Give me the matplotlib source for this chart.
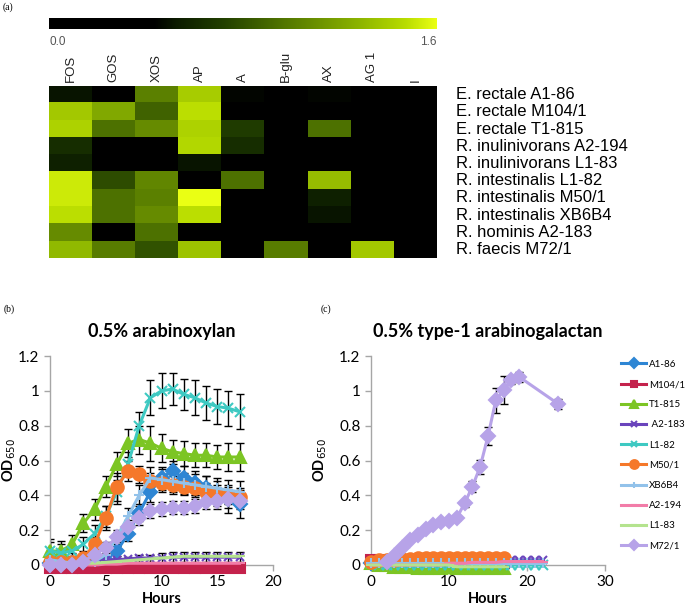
import numpy as np
import matplotlib
matplotlib.use("Agg")
import matplotlib.pyplot as plt
from matplotlib.colors import LinearSegmentedColormap

# Datos del mapa de calor (panel a) ------------------------------------------
substrates = ["FOS", "GOS", "XOS", "AP", "A", "B-glu", "AX", "AG 1", "I"]
strains = ["E. rectale A1-86", "E. rectale M104/1", "E. rectale T1-815",
           "R. inulinivorans A2-194", "R. inulinivorans L1-83",
           "R. intestinalis L1-82", "R. intestinalis M50/1",
           "R. intestinalis XB6B4", "R. hominis A2-183", "R. faecis M72/1"]
fos = [0.50, 1.38, 1.42, 0.62, 0.55, 1.52, 1.52, 1.48, 1.08, 1.30]
gos = [0.00, 1.22, 0.95, 0.00, 0.00, 0.78, 0.95, 0.95, 0.00, 1.00]
xos = [1.02, 0.88, 1.08, 0.00, 0.00, 1.05, 1.02, 1.08, 0.95, 0.80]
ap = [1.40, 1.48, 1.42, 1.45, 0.50, 0.00, 1.60, 1.48, 0.00, 1.35]
a = [0.45, 0.00, 0.70, 0.62, 0.00, 0.95, 0.00, 0.00, 0.00, 0.00]
bglu = [0.00, 0.00, 0.00, 0.00, 0.00, 0.00, 0.00, 0.00, 0.00, 1.00]
ax_ = [0.45, 0.00, 0.95, 0.00, 0.00, 1.32, 0.55, 0.50, 0.00, 0.00]
ag1 = [0.00, 0.00, 0.00, 0.00, 0.00, 0.00, 0.00, 0.00, 0.00, 1.38]
inu = [0.00, 0.00, 0.00, 0.00, 0.00, 0.00, 0.00, 0.00, 0.00, 0.00]
vmax = 1.6

# Curvas de crecimiento en arabinoxilano (panel b) ---------------------------
hours_b = list(range(18))
b_a186 = [0.01, 0.01, 0.01, 0.01, 0.02, 0.03, 0.08, 0.18, 0.30, 0.42, 0.50, 0.54, 0.50, 0.47, 0.44, 0.41, 0.38, 0.35]
b_m104 = [-0.015] * 18
b_t1815 = [0.08, 0.08, 0.12, 0.24, 0.32, 0.45, 0.58, 0.70, 0.72, 0.70, 0.67, 0.65, 0.64, 0.63, 0.63, 0.62, 0.62, 0.62]
b_a2183 = [0.02, 0.02, 0.02, 0.02, 0.02, 0.03, 0.03, 0.035, 0.04, 0.04, 0.04, 0.045, 0.045, 0.045, 0.045, 0.045, 0.045, 0.045]
b_l182 = [0.08, 0.07, 0.08, 0.12, 0.18, 0.28, 0.42, 0.58, 0.80, 0.96, 1.00, 1.01, 0.98, 0.96, 0.93, 0.91, 0.90, 0.88]
b_m501 = [0.02, 0.02, 0.02, 0.04, 0.12, 0.27, 0.45, 0.54, 0.52, 0.48, 0.47, 0.46, 0.45, 0.44, 0.42, 0.41, 0.40, 0.39]
b_xb6b4 = [0.03, 0.02, 0.01, 0.01, 0.02, 0.06, 0.16, 0.28, 0.40, 0.50, 0.49, 0.48, 0.47, 0.46, 0.45, 0.44, 0.43, 0.42]
b_a2194 = [0.0, 0.0, 0.0, 0.0, 0.0, 0.005, 0.005, 0.01, 0.01, 0.01, 0.01, 0.01, 0.01, 0.01, 0.01, 0.01, 0.01, 0.01]
b_l183 = [0.01, 0.01, 0.01, 0.01, 0.01, 0.015, 0.02, 0.025, 0.03, 0.035, 0.04, 0.045, 0.05, 0.05, 0.05, 0.05, 0.05, 0.05]
b_m721 = [0.0, 0.0, 0.0, 0.02, 0.06, 0.10, 0.16, 0.22, 0.27, 0.31, 0.32, 0.33, 0.33, 0.34, 0.36, 0.37, 0.38, 0.37]

# errores (desviación) de las curvas principales
e_a186 = [0.01, 0.01, 0.01, 0.01, 0.01, 0.02, 0.03, 0.04, 0.05, 0.06, 0.06, 0.06, 0.07, 0.07, 0.07, 0.07, 0.08, 0.08]
e_t1815 = [0.07, 0.06, 0.05, 0.05, 0.06, 0.06, 0.07, 0.08, 0.08, 0.10, 0.08, 0.07, 0.07, 0.07, 0.07, 0.07, 0.08, 0.08]
e_l182 = [0.05, 0.05, 0.03, 0.04, 0.05, 0.06, 0.07, 0.07, 0.08, 0.10, 0.10, 0.09, 0.09, 0.10, 0.10, 0.10, 0.10, 0.10]
e_m501 = [0.01, 0.01, 0.01, 0.02, 0.04, 0.07, 0.08, 0.06, 0.05, 0.05, 0.05, 0.05, 0.05, 0.05, 0.05, 0.05, 0.05, 0.05]
e_xb6b4 = [0.01, 0.01, 0.01, 0.01, 0.02, 0.03, 0.04, 0.05, 0.06, 0.06, 0.06, 0.06, 0.06, 0.06, 0.06, 0.06, 0.06, 0.06]
e_m721 = [0.01, 0.01, 0.01, 0.01, 0.02, 0.03, 0.03, 0.04, 0.04, 0.04, 0.04, 0.04, 0.04, 0.04, 0.04, 0.05, 0.05, 0.05]
e_a2183 = [0.0, 0.0, 0.0, 0.0, 0.0, 0.01, 0.01, 0.01, 0.02, 0.02, 0.03, 0.03, 0.03, 0.03, 0.03, 0.03, 0.03, 0.03]

# Curvas en arabinogalactano tipo 1 (panel c) --------------------------------
hours_c = list(range(18))
hours_c_long = list(range(23))
c_a186 = [0.01] * 18
c_m104 = [0.03, 0.03, 0.02, 0.01, 0.01, 0.01, 0.01, 0.01, 0.01, 0.01, 0.01, 0.01, 0.01, 0.01, 0.01, 0.01, 0.01, 0.01]
c_t1815 = [0.01, 0.0, 0.0, -0.01, -0.01, -0.01, -0.015, -0.015, -0.015, -0.015, -0.01, -0.015, -0.015, -0.015, -0.015, -0.015, -0.015, -0.015]
c_a2183 = [0.02, 0.02, 0.01, 0.01, 0.01, 0.01, 0.01, 0.01, 0.01, 0.01, 0.01, 0.01, 0.01, 0.01, 0.01, 0.01, 0.02, 0.02, 0.03, 0.03, 0.03, 0.03, 0.03]
c_l182 = [0.01, 0.0, 0.0, 0.0, 0.0, 0.0, 0.0, 0.0, 0.0, 0.0, 0.0, 0.0, 0.0, 0.0, 0.0, 0.0, 0.0, 0.0, 0.0, 0.0, 0.0, 0.0, 0.0]
c_m501 = [0.02, 0.03, 0.03, 0.03, 0.035, 0.035, 0.04, 0.04, 0.04, 0.04, 0.04, 0.04, 0.04, 0.04, 0.04, 0.04, 0.04, 0.04]
c_xb6b4 = [0.01, 0.01, 0.01, 0.01, 0.01, 0.01, 0.01, 0.01, 0.01, 0.01, 0.01, 0.01, 0.01, 0.01, 0.01, 0.01, 0.01, 0.01, 0.01, 0.01, 0.01, 0.01, 0.01]
c_a2194 = [0.0, 0.0, 0.0, 0.0, 0.0, 0.0, 0.0, 0.0, 0.0, 0.0, 0.01, 0.01, 0.01, 0.015, 0.015, 0.015, 0.015, 0.02, 0.02, 0.02, 0.02, 0.02, 0.02]
c_l183 = [0.0, 0.0, 0.0, 0.0, 0.0, 0.0, 0.0, 0.0, 0.0, 0.0, 0.0, -0.01, -0.01, -0.01, -0.01, -0.01, -0.01, -0.01]
hours_c_m721 = [2, 3, 4, 5, 6, 7, 8, 9, 10, 11, 12, 13, 14, 15, 16, 17, 18, 19, 24]
c_m721 = [0.015, 0.05, 0.10, 0.145, 0.17, 0.205, 0.23, 0.245, 0.25, 0.27, 0.355, 0.45, 0.565, 0.74, 0.945, 1.005, 1.06, 1.08, 0.925]
e_c_m721 = [0.0, 0.0, 0.0, 0.0, 0.0, 0.0, 0.0, 0.0, 0.0, 0.01, 0.02, 0.03, 0.04, 0.05, 0.07, 0.08, 0.02, 0.03, 0.03]

# Estilos de las cepas (como en Excel) ----------------------------------------
names = ["A1-86", "M104/1", "T1-815", " A2-183", "L1-82", "M50/1",
         "XB6B4", "A2-194", "L1-83", "M72/1"]
colors = ["#2e86d4", "#c4224c", "#7cc524", "#6a44bc", "#3ec9c2", "#f5782a",
          "#92c2ea", "#f27ca8", "#b4e38e", "#b7a3e8"]
markers = ["D", "s", "^", "x", "x", "o", "+", "_", "_", "D"]
msizes = [7, 7, 8, 6, 7, 9, 7, 7, 7, 7]

fig = plt.figure(figsize=(6.89, 6.08), dpi=100)
W, H = 689.0, 608.0


def box(x0, y0, x1, y1):
    # convierte pixeles (arriba-izquierda) a coordenadas de la figura
    return [x0 / W, 1 - y1 / H, (x1 - x0) / W, (y1 - y0) / H]


# Panel (a) ------------------------------------------------------------------
cmap = LinearSegmentedColormap.from_list("bg", [
    (0.0, "#000000"), (0.27, "#000000"), (0.33, "#0c1c00"), (0.45, "#224000"),
    (0.6, "#507400"), (0.8, "#8cb400"), (0.92, "#b8dc00"), (1.0, "#eaff14")])

fig.text(3 / W, 1 - 7 / H, "(a)", fontsize=7, family="Liberation Serif", va="center")

cax = fig.add_axes(box(49, 18, 437, 29))
cax.imshow(np.linspace(0, 1, 256)[None, :], aspect="auto", cmap=cmap,
           extent=[0, vmax, 0, 1])
cax.axis("off")
fig.text(49 / W, 1 - 42 / H, "0.0", fontsize=8.5, color="#555555",
         family="Liberation Sans", va="center", ha="left")
fig.text(437 / W, 1 - 42 / H, "1.6", fontsize=8.5, color="#555555",
         family="Liberation Sans", va="center", ha="right")

heat = np.column_stack([fos, gos, xos, ap, a, bglu, ax_, ag1, inu])
hax = fig.add_axes(box(49, 86, 437, 258))
hax.imshow(heat, aspect="auto", cmap=cmap, vmin=0, vmax=vmax,
           interpolation="nearest")
hax.set_xticks([])
hax.set_yticks([])
for s in hax.spines.values():
    s.set_visible(False)
for j, lab in enumerate(substrates):
    hax.text(j, -0.75, lab, rotation=90, ha="center", va="bottom",
             fontsize=9.5, family="Liberation Sans", color="#222222")
for i, lab in enumerate(strains):
    hax.text(8.94, i, lab, ha="left", va="center", fontsize=12,
             family="Liberation Sans", color="black")

# Paneles (b) y (c) ----------------------------------------------------------
fig.text(4 / W, 1 - 309 / H, "(b)", fontsize=7, family="Liberation Serif", va="center")
fig.text(321 / W, 1 - 309 / H, "(c)", fontsize=7, family="Liberation Serif", va="center")


def excel_axes(ax, xmax, xstep, ylab_x):
    ax.set_xlim(0, xmax)
    ax.set_ylim(0, 1.2)
    ax.set_xticks(np.arange(0, xmax + 1, xstep))
    ax.set_yticks([0, 0.2, 0.4, 0.6, 0.8, 1.0, 1.2])
    ax.set_yticklabels(["0", "0.2", "0.4", "0.6", "0.8", "1", "1.2"])
    for s in ["top", "right"]:
        ax.spines[s].set_visible(False)
    for s in ["left", "bottom"]:
        ax.spines[s].set_color("#a6a6a6")
        ax.spines[s].set_linewidth(1.0)
    ax.tick_params(colors="#a6a6a6", labelcolor="black", length=4, width=1,
                   labelsize=11)
    for t in ax.get_xticklabels() + ax.get_yticklabels():
        t.set_family("Lato")
    ax.set_xlabel("Hours", fontsize=10.5, fontweight="bold", family="Lato",
                  labelpad=2)
    ax.set_ylabel("OD$_{650}$", fontsize=10.5, fontweight="bold", family="Lato")
    ax.yaxis.set_label_coords(ylab_x, 0.5)


ax_b = fig.add_axes(box(50, 356, 273, 565))
series_b = [b_a186, b_m104, b_t1815, b_a2183, b_l182, b_m501, b_xb6b4,
            b_a2194, b_l183, b_m721]
errs_b = {0: e_a186, 2: e_t1815, 3: e_a2183, 4: e_l182, 5: e_m501,
          6: e_xb6b4, 9: e_m721}
for k, ys in enumerate(series_b):
    if k in errs_b:
        ax_b.errorbar(hours_b, ys, yerr=errs_b[k], fmt="none", ecolor="black",
                      elinewidth=1, capsize=3, capthick=1, zorder=1)
    ax_b.plot(hours_b, ys, color=colors[k], marker=markers[k],
              markersize=msizes[k], lw=2.2, mew=1.5, clip_on=False, zorder=2 + k)
excel_axes(ax_b, 20, 5, -0.145)
ax_b.set_title("0.5% arabinoxylan", fontsize=13, fontweight="bold",
               family="Lato", pad=14)

ax_c = fig.add_axes(box(371, 356, 605, 565))
series_c = [(hours_c, c_a186), (hours_c, c_m104), (hours_c, c_t1815),
            (hours_c_long, c_a2183), (hours_c_long, c_l182), (hours_c, c_m501),
            (hours_c_long, c_xb6b4), (hours_c_long, c_a2194), (hours_c, c_l183),
            (hours_c_m721, c_m721)]
ax_c.errorbar(hours_c_m721, c_m721, yerr=e_c_m721, fmt="none", ecolor="black",
              elinewidth=1, capsize=3, capthick=1, zorder=1)
handles = []
for k, (xs, ys) in enumerate(series_c):
    ln, = ax_c.plot(xs, ys, color=colors[k], marker=markers[k],
                    markersize=msizes[k], lw=2.2, mew=1.5, clip_on=False,
                    zorder=2 + k, label=names[k])
    handles.append(ln)
excel_axes(ax_c, 30, 10, -0.18)
ax_c.set_title("0.5% type-1 arabinogalactan", fontsize=13, fontweight="bold",
               family="Lato", pad=14)

leg = fig.legend(handles=handles, loc="upper left",
                 bbox_to_anchor=(616 / W, 1 - 355 / H), frameon=False,
                 prop={"family": "Lato", "size": 7}, borderpad=0,
                 labelspacing=1.15, handlelength=2.6, handletextpad=0.3,
                 markerscale=0.7)

fig.savefig("out.png", dpi=100)
